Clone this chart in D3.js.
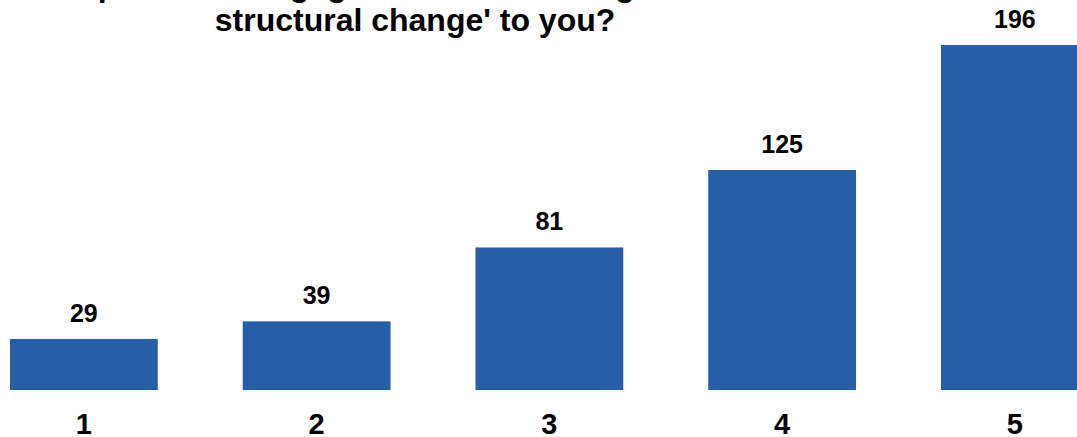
<!DOCTYPE html>
<html>
<head>
<meta charset="utf-8">
<script src="https://cdn.jsdelivr.net/npm/d3@7/dist/d3.min.js"></script>
<style>
  html, body { margin: 0; padding: 0; background: #fff; }
  svg { display: block; font-family: "Liberation Sans", Arial, sans-serif; }
</style>
</head>
<body>
<svg id="chart" width="1077" height="437"></svg>
<script>
// Rating scale (1 = lowest, 5 = highest) and number of responses
const categories = ["1", "2", "3", "4", "5"];
const responses = [29, 39, 81, 125, 196];
const titleLines = ["How important is engagement in achieving '", "structural change' to you?"];

const svg = d3.select("#chart");

const x = d3.scaleBand()
  .domain(categories)
  .range([-32.5, 1131.25])
  .paddingInner(0.365)
  .paddingOuter(0.1825);

const y = d3.scaleLinear()
  .domain([0, 200])
  .range([390, 38]);

// Title (the first line runs off the top edge)
svg.append("text")
  .attr("x", -16).attr("y", -4)
  .attr("font-size", 32).attr("font-weight", "bold").attr("fill", "#000")
  .text(titleLines[0]);
svg.append("text")
  .attr("x", 415).attr("y", 31)
  .attr("text-anchor", "middle")
  .attr("font-size", 32).attr("font-weight", "bold").attr("fill", "#000")
  .text(titleLines[1]);

// Bars
svg.append("g").selectAll("rect")
  .data(categories)
  .join("rect")
  .attr("x", d => x(d))
  .attr("width", x.bandwidth())
  .attr("y", (d, i) => y(responses[i]))
  .attr("height", (d, i) => y(0) - y(responses[i]))
  .attr("fill", "#265EA8");

// Value labels
svg.append("g").selectAll("text")
  .data(categories)
  .join("text")
  .attr("x", d => x(d) + x.bandwidth() / 2)
  .attr("y", (d, i) => y(responses[i]) - 17)
  .attr("text-anchor", "middle")
  .attr("font-size", 25).attr("font-weight", "bold").attr("fill", "#000")
  .text((d, i) => responses[i]);

// Category axis labels
const xAxis = d3.axisBottom(x).tickSize(0).tickPadding(0);
const gx = svg.append("g").attr("transform", "translate(0,390)").call(xAxis);
gx.select(".domain").remove();
gx.selectAll("text")
  .attr("y", 44).attr("dy", null)
  .attr("font-size", 29).attr("font-weight", "bold").attr("fill", "#000")
  .attr("font-family", "'Liberation Sans', Arial, sans-serif");
</script>
</body>
</html>
